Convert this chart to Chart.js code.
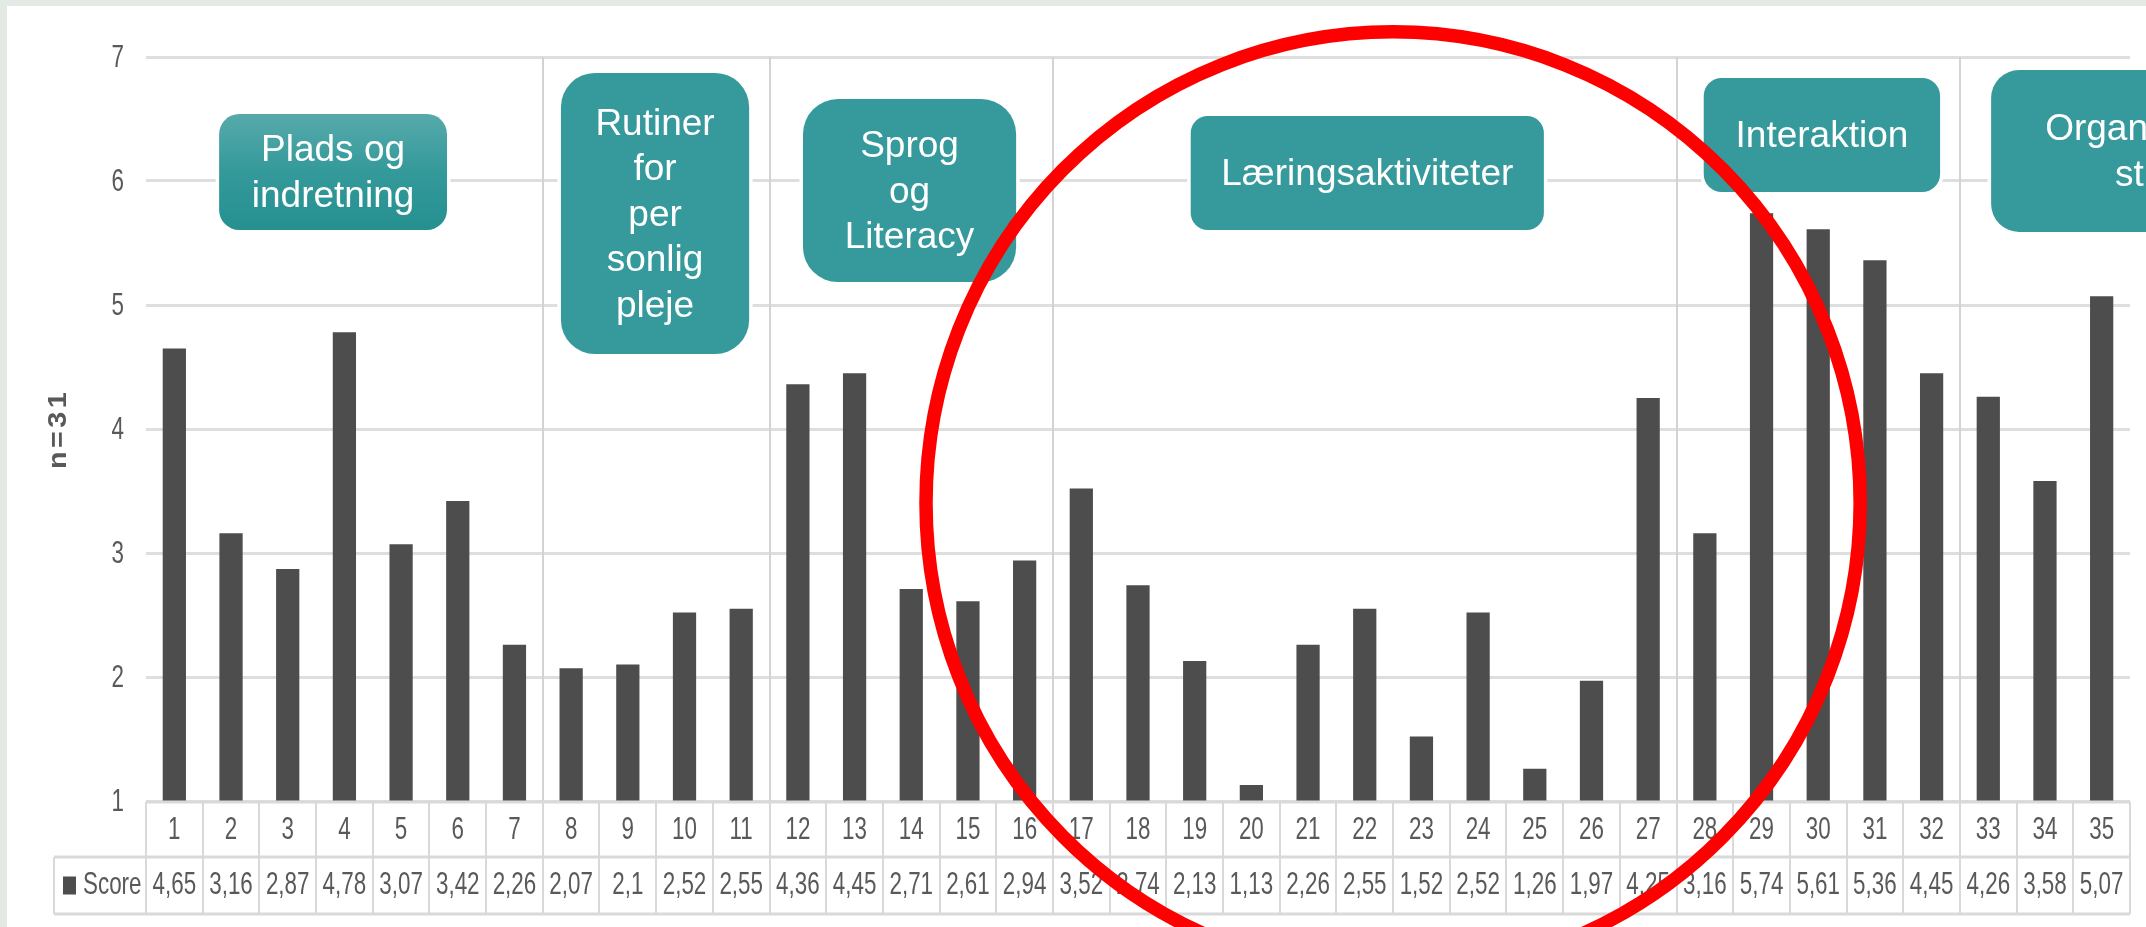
<!DOCTYPE html>
<html>
<head>
<meta charset="utf-8">
<script src="https://cdn.jsdelivr.net/npm/chart.js@4.4.1/dist/chart.umd.min.js"></script>
<style>
  html, body { margin: 0; padding: 0; background: #fff; }
  #wrap { width: 2146px; height: 927px; position: relative; }
</style>
</head>
<body>
<div id="wrap"><canvas id="scoreChart"></canvas></div>
<script>
// item numbers and their scores
const items = ['1', '2', '3', '4', '5', '6', '7', '8', '9', '10', '11', '12', '13', '14', '15', '16', '17', '18',
  '19', '20', '21', '22', '23', '24', '25', '26', '27', '28', '29', '30', '31', '32', '33', '34', '35'];
const scores = [4.65, 3.16, 2.87, 4.78, 3.07, 3.42, 2.26, 2.07, 2.1, 2.52, 2.55, 4.36, 4.45, 2.71, 2.61, 2.94, 3.52,
  2.74, 2.13, 1.13, 2.26, 2.55, 1.52, 2.52, 1.26, 1.97, 4.25, 3.16, 5.74, 5.61, 5.36, 4.45, 4.26, 3.58, 5.07];
const seriesName = 'Score';
const yTitle = 'n=31';
const yMin = 1;
const yMax = 7;

// groups of items (last item number in each group)
const groupNames = ['Plads og\nindretning', 'Rutiner\nfor\nper\nsonlig\npleje', 'Sprog\nog\nLiteracy',
  'Læringsaktiviteter', 'Interaktion', 'Organisering og\nstruktur'];
const groupLastItem = [7, 11, 16, 27, 32, 35];

// where the group boxes sit (u = category widths from left, v = y value)
const boxSpots = [
  { u0: 1.29, u1: 5.31, v0: 6.54, v1: 5.605, r: 20, shade: true },
  { u0: 7.32, u1: 10.64, v0: 6.871, v1: 4.605, r: 34 },
  { u0: 11.59, u1: 15.35, v0: 6.661, v1: 5.185, r: 35 },
  { u0: 18.43, u1: 24.66, v0: 6.524, v1: 5.605, r: 17 },
  { u0: 27.48, u1: 31.65, v0: 6.831, v1: 5.911, r: 18 },
  { u0: 32.55, u1: 39.1, v0: 6.895, v1: 5.589, r: 28 }
];
const ring = { u: 22.0, v: 3.403, ru: 8.24, rv: 3.80 };

const gray = '#595959';
const lineGray = '#d9d9d9';
const tableFont = '28px "Liberation Sans", Arial, sans-serif';

// the reference text is tall and narrow, so squeeze it
function squashText(ctx, text, x, y, align) {
  ctx.save();
  ctx.translate(x, y);
  ctx.scale(0.8, 1.15);
  ctx.textAlign = align;
  ctx.textBaseline = 'middle';
  ctx.fillText(text, 0, 0);
  ctx.restore();
}

const backdrop = {
  id: 'backdrop',
  beforeDraw(chart) {
    const ctx = chart.ctx;
    ctx.save();
    ctx.fillStyle = '#e3e9e3';
    ctx.fillRect(0, 0, chart.width, chart.height);
    ctx.fillStyle = '#ffffff';
    ctx.fillRect(7, 6, chart.width, chart.height);
    ctx.restore();
  }
};

const separators = {
  id: 'separators',
  beforeDatasetsDraw(chart) {
    const { ctx, chartArea, scales } = chart;
    ctx.save();
    ctx.strokeStyle = '#d3d3d3';
    ctx.lineWidth = 2;
    groupLastItem.slice(0, -1).forEach(n => {
      const x = Math.round(scales.x.getPixelForValue(n - 0.5));
      ctx.beginPath();
      ctx.moveTo(x, chartArea.top);
      ctx.lineTo(x, chartArea.bottom);
      ctx.stroke();
    });
    ctx.restore();
  }
};

const dataTable = {
  id: 'dataTable',
  afterDraw(chart) {
    const { ctx, chartArea, scales } = chart;
    const xs = scales.x, ys = scales.y;
    const px = u => xs.getPixelForValue(u - 0.5);
    const top = chartArea.bottom + 1, mid = top + 55, bot = mid + 57;
    const legLeft = 54;
    ctx.save();
    ctx.strokeStyle = lineGray;
    ctx.lineWidth = 3;
    [[chartArea.left, top], [legLeft, mid], [legLeft, bot]].forEach(([x0, y]) => {
      ctx.beginPath();
      ctx.moveTo(x0, y);
      ctx.lineTo(chartArea.right, y);
      ctx.stroke();
    });
    ctx.lineWidth = 2;
    for (let i = 0; i <= items.length; i++) {
      const x = Math.round(px(i));
      ctx.beginPath();
      ctx.moveTo(x, top);
      ctx.lineTo(x, bot);
      ctx.stroke();
    }
    ctx.beginPath();
    ctx.moveTo(legLeft, mid);
    ctx.lineTo(legLeft, bot);
    ctx.stroke();

    ctx.fillStyle = gray;
    ctx.font = tableFont;
    items.forEach((lab, i) => {
      const x = xs.getPixelForValue(i);
      squashText(ctx, lab, x, (top + mid) / 2 + 1, 'center');
      squashText(ctx, String(scores[i]).replace('.', ','), x, (mid + bot) / 2, 'center');
    });
    ctx.fillStyle = '#4d4d4d';
    ctx.fillRect(63, (mid + bot) / 2 - 9, 13, 18);
    ctx.fillStyle = gray;
    squashText(ctx, seriesName, 83, (mid + bot) / 2, 'left');

    // y axis numbers
    ys.ticks.forEach(t => {
      squashText(ctx, String(t.value), chartArea.left - 22, ys.getPixelForValue(t.value) + 1, 'right');
    });

    // y axis title
    ctx.save();
    ctx.translate(59, (chartArea.top + chartArea.bottom) / 2);
    ctx.rotate(-Math.PI / 2);
    ctx.scale(1.15, 1);
    ctx.font = 'bold 25px "Liberation Sans", Arial, sans-serif';
    ctx.letterSpacing = '3px';
    ctx.textAlign = 'center';
    ctx.textBaseline = 'middle';
    ctx.fillText(yTitle, 0, 0);
    ctx.restore();
    ctx.restore();
  }
};

const groupBoxes = {
  id: 'groupBoxes',
  afterDraw(chart) {
    const { ctx, scales } = chart;
    const px = u => scales.x.getPixelForValue(u - 0.5);
    const py = v => scales.y.getPixelForValue(v);
    ctx.save();
    boxSpots.forEach((b, i) => {
      const x0 = px(b.u0), x1 = px(b.u1), y0 = py(b.v0), y1 = py(b.v1);
      ctx.beginPath();
      ctx.roundRect(x0, y0, x1 - x0, y1 - y0, b.r);
      ctx.strokeStyle = '#ffffff';
      ctx.lineWidth = 7;
      ctx.stroke();
      if (b.shade) {
        const g = ctx.createLinearGradient(0, y0, 0, y1);
        g.addColorStop(0, '#57aaab');
        g.addColorStop(0.5, '#34999a');
        g.addColorStop(1, '#25908f');
        ctx.fillStyle = g;
      } else {
        ctx.fillStyle = '#36999b';
      }
      ctx.fill();
      const lines = groupNames[i].split('\n');
      const lh = 45.5;
      const cx = (x0 + x1) / 2, cy = (y0 + y1) / 2 + 2;
      ctx.fillStyle = '#ffffff';
      ctx.font = '37px "Liberation Sans", Arial, sans-serif';
      ctx.textAlign = 'center';
      ctx.textBaseline = 'middle';
      lines.forEach((ln, k) => {
        ctx.fillText(ln, cx, cy + (k - (lines.length - 1) / 2) * lh);
      });
    });
    ctx.restore();
  }
};

const redRing = {
  id: 'redRing',
  afterDraw(chart) {
    const { ctx, scales } = chart;
    const px = u => scales.x.getPixelForValue(u - 0.5);
    const py = v => scales.y.getPixelForValue(v);
    const cx = px(ring.u), cy = py(ring.v);
    const rx = px(ring.u + ring.ru) - cx, ry = cy - py(ring.v + ring.rv);
    ctx.save();
    ctx.strokeStyle = '#ff0000';
    ctx.lineWidth = 13.5;
    ctx.beginPath();
    ctx.ellipse(cx, cy, rx, ry, 0, 0, Math.PI * 2);
    ctx.stroke();
    ctx.restore();
  }
};

new Chart(document.getElementById('scoreChart'), {
  type: 'bar',
  data: {
    labels: items,
    datasets: [{
      label: seriesName,
      data: scores,
      backgroundColor: '#4d4d4d',
      borderWidth: 0,
      categoryPercentage: 1,
      barPercentage: 0.41
    }]
  },
  options: {
    responsive: true,
    maintainAspectRatio: false,
    animation: false,
    layout: { padding: { left: 0, right: 16, top: 57, bottom: 126 } },
    plugins: {
      legend: { display: false },
      tooltip: { enabled: false }
    },
    scales: {
      x: { display: false },
      y: {
        min: yMin,
        max: yMax,
        ticks: { stepSize: 1, display: false },
        grid: { color: '#dedede', lineWidth: 3, drawTicks: false },
        border: { display: false },
        afterFit(scale) { scale.width = 146; }
      }
    }
  },
  plugins: [backdrop, separators, dataTable, groupBoxes, redRing]
});
</script>
</body>
</html>
